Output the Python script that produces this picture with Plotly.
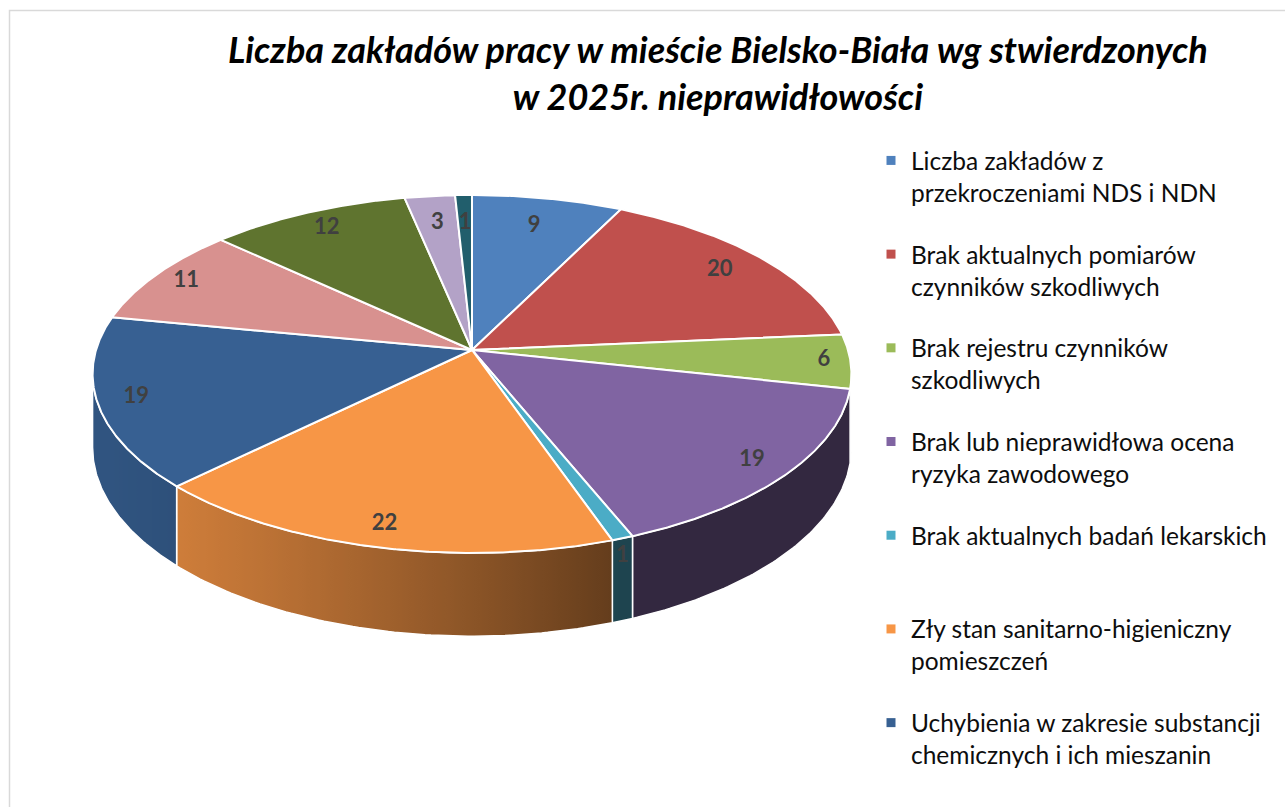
import numpy as np
import plotly.graph_objects as go

# ---- data -------------------------------------------------------------
legend_labels = [
    "Liczba zakładów z<br>przekroczeniami NDS i NDN",
    "Brak aktualnych pomiarów<br>czynników szkodliwych",
    "Brak rejestru czynników<br>szkodliwych",
    "Brak lub nieprawidłowa ocena<br>ryzyka zawodowego",
    "Brak aktualnych badań lekarskich<br> ",
    "Zły stan sanitarno-higieniczny<br>pomieszczeń",
    "Uchybienia w zakresie substancji<br>chemicznych i ich mieszanin",
]
values = [9, 20, 6, 19, 1, 22, 19, 11, 12, 3, 1]

# ---- styling ----------------------------------------------------------
colors = ["#4f81bd", "#c0504d", "#9bbb59", "#8064a2", "#4bacc6", "#f79646",
          "#376092", "#d8918f", "#5f742f", "#b3a2c7", "#215e6c"]
label_r = [0.8, 0.85, 0.93, 0.9, 1.0, 0.9, 0.9, 0.9, 0.87, 0.8, 0.8]
label_drop = [0, 0, 0, 0, 0.22, 0, 0, 0, 0, 0, 0]

W, H = 1285, 807
CX, CY = 472.0, 350.0        # pie apex on screen
RX, RY = 376.0, 175.8        # projected radii
K = 0.134                    # perspective strength
THICK = 72.0                 # side wall height


def project(r, theta_deg, z=0.0):
    t = np.radians(theta_deg)
    u = r * np.sin(t)
    v = -r * np.cos(t)
    s = 1.0 / (1.0 - K * v)
    return CX + RX * u * s, CY + RY * v * s + z * THICK * s


def hex_rgb(h):
    h = h.lstrip("#")
    return np.array([int(h[i:i + 2], 16) for i in (0, 2, 4)], dtype=float)


def shade(h, f):
    c = np.clip(hex_rgb(h) * f, 0, 255).astype(int)
    return "rgb(%d,%d,%d)" % tuple(c)


def wall_light(theta_deg):
    t = np.radians(theta_deg)
    n = np.array([np.sin(t), -np.cos(t)])
    light = np.array([-0.94, 0.342])
    return 0.40 + 0.48 * max(0.0, float(n @ light))


total = float(sum(values))
edges = np.concatenate([[0.0], np.cumsum(values)]) / total * 360.0
th_right = np.degrees(np.arccos(-K))
th_left = 360.0 - th_right

fig = go.Figure()

# side walls (front half of the cylinder)
for i, v in enumerate(values):
    a, b = max(edges[i], th_right), min(edges[i + 1], th_left)
    if a >= b:
        continue
    th = np.linspace(a, b, 80)
    xt, yt = project(1.0, th)
    xb, yb = project(1.0, th, 1.0)
    xs = np.concatenate([xt, xb[::-1], xt[:1]])
    ys = np.concatenate([yt, yb[::-1], yt[:1]])
    xmin, xmax = xt.min(), xt.max()
    span = max(xmax - xmin, 1e-6)
    stops = sorted(((xv - xmin) / span, shade(colors[i], wall_light(tv)))
                   for xv, tv in zip(xt, th))
    stops[0] = (0.0, stops[0][1])
    stops[-1] = (1.0, stops[-1][1])
    fig.add_trace(go.Scatter(
        x=xs, y=ys, mode="lines", fill="toself",
        fillcolor=shade(colors[i], wall_light((a + b) / 2)),
        fillgradient=dict(type="horizontal", colorscale=[list(p) for p in stops]),
        line=dict(color="white", width=1.5),
        hoverinfo="skip", showlegend=False))

# top faces
for i, v in enumerate(values):
    th = np.linspace(edges[i], edges[i + 1], max(8, int(v * 12)))
    xa, ya = project(1.0, th)
    xs = np.concatenate([[CX], xa, [CX]])
    ys = np.concatenate([[CY], ya, [CY]])
    fig.add_trace(go.Scatter(
        x=xs, y=ys, mode="lines", fill="toself", fillcolor=colors[i],
        line=dict(color="white", width=2),
        hoverinfo="skip", showlegend=False))

# value labels
lx, ly = [], []
for i, v in enumerate(values):
    mid = (edges[i] + edges[i + 1]) / 2
    x, y = project(label_r[i], mid, label_drop[i])
    lx.append(x)
    ly.append(y)
fig.add_trace(go.Scatter(
    x=lx, y=ly, mode="text", text=[str(v) for v in values],
    textfont=dict(family="Lato", size=22, color="#404040", weight="bold"),
    hoverinfo="skip", showlegend=False))

# legend entries
for i, name in enumerate(legend_labels):
    fig.add_trace(go.Scatter(
        x=[None], y=[None], mode="markers", name=name,
        legendgroup="g%d" % i,
        marker=dict(symbol="square", size=9, color=colors[i])))

fig.update_layout(
    width=W, height=H,
    margin=dict(l=0, r=0, t=0, b=0),
    paper_bgcolor="white", plot_bgcolor="white",
    xaxis=dict(range=[0, W], visible=False, fixedrange=True),
    yaxis=dict(range=[H, 0], visible=False, fixedrange=True),
    showlegend=True,
    legend=dict(
        x=871 / W, y=1 - 138 / H, xanchor="left", yanchor="top",
        font=dict(family="Lato", size=24.5, color="#0d0d0d"),
        valign="top", tracegroupgap=27, bgcolor="rgba(0,0,0,0)"),
    annotations=[dict(
        text="<b><i>Liczba zakładów pracy w mieście Bielsko-Biała wg stwierdzonych"
             "<br>w 2025r. nieprawidłowości</i></b>",
        x=718 / W, y=1 - 25 / H, xref="paper", yref="paper",
        xanchor="center", yanchor="top", showarrow=False,
        font=dict(family="Lato", size=36, color="black"))],
    shapes=[dict(type="rect", xref="paper", yref="paper",
                 x0=9.5 / W, x1=1.2, y0=1 - 10.5 / H, y1=-0.2,
                 line=dict(color="#d9d9d9", width=1.5))],
)

fig.write_html("out.html")
